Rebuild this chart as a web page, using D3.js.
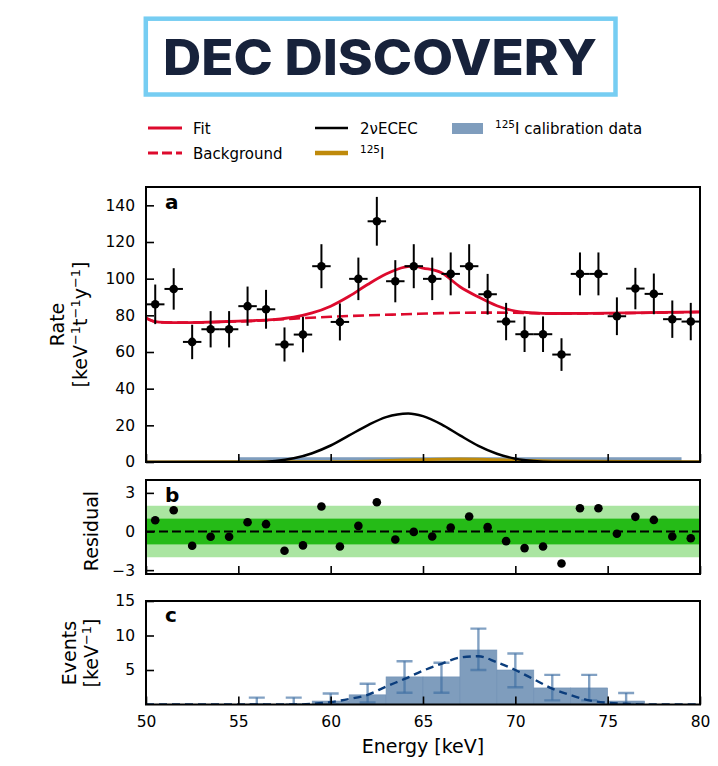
<!DOCTYPE html>
<html>
<head>
<meta charset="utf-8">
<script src="https://cdn.jsdelivr.net/npm/d3@7"></script>
<style>
body{margin:0;background:#fff}
svg{display:block}
text{font-family:"DejaVu Sans",sans-serif}
</style>
</head>
<body>
<svg id="chart" width="718" height="766"></svg>
<script>
// panel a: measured rate per 1 keV bin
var binCenters = [50.5,51.5,52.5,53.5,54.5,55.5,56.5,57.5,58.5,59.5,60.5,61.5,62.5,63.5,64.5,65.5,66.5,67.5,68.5,69.5,70.5,71.5,72.5,73.5,74.5,75.5,76.5,77.5,78.5,79.5];
var rate = [86.0,94.4,65.5,72.4,72.4,85.0,83.3,64.1,69.5,106.8,76.4,99.9,131.3,98.6,106.8,99.9,102.6,106.8,91.5,76.6,69.7,69.7,58.6,102.6,102.6,79.5,94.6,91.7,77.9,76.6];
var rateErr = [10.8,11.3,9.4,9.9,9.9,10.7,10.6,9.3,9.7,12.0,10.1,11.6,13.3,11.5,12.0,11.6,11.7,12.0,11.1,10.2,9.7,9.7,8.9,11.7,11.7,10.3,11.3,11.1,10.2,10.2];

// panel a: model curves
var fitE = [50,50.5,51,52,53,54,55,56,57,58,59,60,61,62,63,64,64.5,65,66,67,68,69,70,71,72,74,76,78,80];
var fitV = [78.6,76.6,76.2,76.0,76.2,76.5,76.8,77.2,77.8,79.0,81.3,85.0,90.4,96.8,102.5,106.3,106.8,105.8,103.2,95.6,90.0,85.2,82.3,81.3,81.0,81.1,81.3,81.6,81.9];
var bgE = [50,50.5,51,52,54,56,58,60,62,64,66,68,70,72,74,76,78,80];
var bgV = [78.6,76.5,76.1,76.0,76.4,77.0,78.2,79.2,80.0,80.6,81.2,81.5,81.4,81.0,81.0,81.2,81.5,81.8];
var ececE = [50,56,57,58,59,60,61,62,63,64.2,65,66,67,68,69,70,71,72,80];
var ececV = [0,0,0.5,2.0,4.8,9.0,14.5,20.0,24.5,26.5,25.0,20.5,14.5,8.8,4.5,1.8,0.5,0,0];
var iodE = [50,60,62,64,66,67,68,70,72,74,76,80];
var iodV = [0,0.1,0.4,1.0,1.5,1.6,1.5,0.9,0.5,0.3,0.2,0.1];
var calibBand = [55,79];
var calibBandHeight = 2.6;

// panel b: residuals
var residual = [0.88,1.65,-1.11,-0.41,-0.41,0.72,0.57,-1.50,-1.08,1.94,-1.16,0.44,2.27,-0.62,-0.03,-0.39,0.31,1.16,0.34,-0.75,-1.29,-1.16,-2.48,1.81,1.81,-0.18,1.14,0.90,-0.39,-0.52];

// panel c: 125I calibration histogram (2 keV bins)
var histLo = [55,57,59,61,63,65,67,69,71,73,75];
var histVal = [0,0,0.5,1.4,4.0,4.0,7.9,5.0,2.4,2.4,0.5];
var histErrLo = [0,0,0,0.3,1.7,1.7,5.0,2.5,0.6,0.6,0];
var histErrHi = [1.0,1.0,1.6,3.0,6.26,6.06,11.0,7.4,4.3,4.3,1.67];
var calibFitE = [50,58,59,60,61,62,63,64,65,66,67,68,69,70,71,72,73,74,75,76,77,80];
var calibFitV = [0,0,0.1,0.35,0.8,1.4,2.6,3.7,4.9,5.9,6.8,7.0,6.1,5.0,3.65,2.3,1.35,0.6,0.26,0.1,0,0];

var xTicks = [50,55,60,65,70,75,80];
var rateTicks = [0,20,40,60,80,100,120,140];
var residTicks = [-3,0,3];
var eventTicks = [5,10,15];

var red = '#dd0a2d', gold = '#bf8a0b', calBlue = '#7f9dbd', navy = '#0b3d7c';

var svg = d3.select('#chart');
var x = d3.scaleLinear().domain([50,80]).range([146,700]);
var ya = d3.scaleLinear().domain([0,150]).range([462,187]);
var yb = d3.scaleLinear().domain([-3.3,4]).range([574,480]);
var yc = d3.scaleLinear().domain([0,15]).range([704.5,601]);

function clip(id, y0, y1){
    svg.append('clipPath').attr('id', id).append('rect')
        .attr('x', 146).attr('y', y0).attr('width', 554).attr('height', y1-y0);
}
clip('ca', 187, 462); clip('cb', 480, 574); clip('cc', 601, 704.5);

// logo
svg.append('rect').attr('x',145.8).attr('y',18.7).attr('width',469.7).attr('height',75.8)
    .attr('fill','#fff').attr('stroke','#76cdf2').attr('stroke-width',4.5);
svg.append('text').attr('x',163).attr('y',75).style('font-family','Inter').attr('font-weight',800)
    .attr('font-size',49).attr('textLength',434).attr('lengthAdjust','spacingAndGlyphs')
    .attr('fill','#17223b').text('DEC DISCOVERY');

// legend
var lg = svg.append('g').attr('font-size',15);
lg.append('line').attr('x1',148).attr('x2',182).attr('y1',128).attr('y2',128).attr('stroke',red).attr('stroke-width',2.8);
lg.append('text').attr('x',193).attr('y',134).text('Fit');
lg.append('line').attr('x1',148).attr('x2',182).attr('y1',153).attr('y2',153).attr('stroke',red).attr('stroke-width',2.8).attr('stroke-dasharray','10,4');
lg.append('text').attr('x',193).attr('y',159).text('Background');
lg.append('line').attr('x1',315).attr('x2',348).attr('y1',128).attr('y2',128).attr('stroke','#000').attr('stroke-width',2.6);
lg.append('text').attr('x',360).attr('y',134).text('2\u03bdECEC');
lg.append('line').attr('x1',315).attr('x2',348).attr('y1',153).attr('y2',153).attr('stroke',gold).attr('stroke-width',4.5);
var t1 = lg.append('text').attr('x',360).attr('y',159);
t1.append('tspan').attr('font-size',10.5).attr('dy',-6).text('125');
t1.append('tspan').attr('dy',6).text('I');
lg.append('rect').attr('x',452).attr('y',123).attr('width',31).attr('height',11).attr('fill',calBlue);
var t2 = lg.append('text').attr('x',495).attr('y',134);
t2.append('tspan').attr('font-size',10.5).attr('dy',-6).text('125');
t2.append('tspan').attr('dy',6).text('I calibration data');

// ---------- panel a ----------
var pa = svg.append('g');
var pac = pa.append('g').attr('clip-path','url(#ca)');
pac.append('rect').attr('x',x(calibBand[0])).attr('width',x(calibBand[1])-x(calibBand[0]))
    .attr('y',ya(calibBandHeight)).attr('height',ya(0)-ya(calibBandHeight)).attr('fill',calBlue);
function curve(xs, ys, yscale){
    return d3.line().curve(d3.curveMonotoneX)
        .x(function(d){return x(d);}).y(function(d,i){return yscale(ys[i]);})(xs);
}
pac.append('path').attr('d',curve(iodE,iodV,ya)).attr('fill','none').attr('stroke',gold).attr('stroke-width',3.2);
pac.append('path').attr('d',curve(ececE,ececV,ya)).attr('fill','none').attr('stroke','#000').attr('stroke-width',2.5);
pac.append('path').attr('d',curve(bgE,bgV,ya)).attr('fill','none').attr('stroke',red).attr('stroke-width',2.6).attr('stroke-dasharray','11,5');
pac.append('path').attr('d',curve(fitE,fitV,ya)).attr('fill','none').attr('stroke',red).attr('stroke-width',2.8);

var pts = pa.append('g').selectAll('g').data(binCenters).enter().append('g');
pts.append('line').attr('x1',function(d){return x(d);}).attr('x2',function(d){return x(d);})
    .attr('y1',function(d,i){return ya(rate[i]-rateErr[i]);}).attr('y2',function(d,i){return ya(rate[i]+rateErr[i]);})
    .attr('stroke','#000').attr('stroke-width',2);
pts.append('line').attr('x1',function(d){return x(d-0.5);}).attr('x2',function(d){return x(d+0.5);})
    .attr('y1',function(d,i){return ya(rate[i]);}).attr('y2',function(d,i){return ya(rate[i]);})
    .attr('stroke','#000').attr('stroke-width',2);
pts.append('circle').attr('cx',function(d){return x(d);}).attr('cy',function(d,i){return ya(rate[i]);}).attr('r',4.3).attr('fill','#000');

// ---------- panel b ----------
var pb = svg.append('g');
var pbc = pb.append('g').attr('clip-path','url(#cb)');
pbc.append('rect').attr('x',146).attr('width',554).attr('y',yb(2)).attr('height',yb(-2)-yb(2)).attr('fill','#aae5a1');
pbc.append('rect').attr('x',146).attr('width',554).attr('y',yb(1)).attr('height',yb(-1)-yb(1)).attr('fill','#25bb17');
pbc.append('line').attr('x1',146).attr('x2',700).attr('y1',yb(0)).attr('y2',yb(0))
    .attr('stroke','#000').attr('stroke-width',2).attr('stroke-dasharray','9,4');
pb.append('g').selectAll('circle').data(binCenters).enter().append('circle')
    .attr('cx',function(d){return x(d);}).attr('cy',function(d,i){return yb(residual[i]);}).attr('r',4.3).attr('fill','#000');

// ---------- panel c ----------
var pc = svg.append('g');
var pcc = pc.append('g').attr('clip-path','url(#cc)');
pcc.selectAll('rect.bar').data(histLo).enter().append('rect').attr('class','bar')
    .attr('x',function(d){return x(d);}).attr('width',function(d){return x(d+2)-x(d);})
    .attr('y',function(d,i){return yc(histVal[i]);}).attr('height',function(d,i){return yc(0)-yc(histVal[i]);})
    .attr('fill',calBlue).attr('stroke','#6f8fb4').attr('stroke-width',0.6);
var eb = pcc.append('g').attr('stroke','#3f6fa3').attr('stroke-opacity',0.65).attr('stroke-width',2.4)
    .selectAll('g').data(histLo).enter().append('g');
eb.append('line').attr('x1',function(d){return x(d+1);}).attr('x2',function(d){return x(d+1);})
    .attr('y1',function(d,i){return yc(histErrLo[i]);}).attr('y2',function(d,i){return yc(histErrHi[i]);});
eb.append('line').attr('x1',function(d){return x(d+1)-8;}).attr('x2',function(d){return x(d+1)+8;})
    .attr('y1',function(d,i){return yc(histErrHi[i]);}).attr('y2',function(d,i){return yc(histErrHi[i]);});
eb.append('line').attr('x1',function(d){return x(d+1)-8;}).attr('x2',function(d){return x(d+1)+8;})
    .attr('y1',function(d,i){return yc(histErrLo[i]);}).attr('y2',function(d,i){return yc(histErrLo[i]);});
pcc.append('path').attr('d',curve(calibFitE,calibFitV,yc)).attr('fill','none')
    .attr('stroke',navy).attr('stroke-width',2.4).attr('stroke-dasharray','8,5');

// ---------- axes ----------
function styleAxis(g){
    g.select('.domain').remove();
    g.selectAll('.tick line').attr('stroke','#000').attr('stroke-width',1.6);
    g.selectAll('.tick text').attr('fill','#000').style('font-family','"DejaVu Sans",sans-serif').attr('font-size',15.5);
}
[[462,false],[574,false],[704.5,true]].forEach(function(p){
    var ax = d3.axisBottom(x).tickValues(xTicks).tickSize(-8).tickPadding(11.5);
    if (!p[1]) ax.tickFormat('');
    svg.append('g').attr('transform','translate(0,'+p[0]+')').call(ax).call(styleAxis);
});
svg.append('g').attr('transform','translate(146,0)')
    .call(d3.axisLeft(ya).tickValues(rateTicks).tickSize(-8).tickPadding(11)).call(styleAxis);
svg.append('g').attr('transform','translate(146,0)')
    .call(d3.axisLeft(yb).tickValues(residTicks).tickSize(-8).tickPadding(11)).call(styleAxis);
svg.append('g').attr('transform','translate(146,0)')
    .call(d3.axisLeft(yc).tickValues(eventTicks).tickSize(-8).tickPadding(11)).call(styleAxis);

// frames
[[187,462],[480,574],[601,704.5]].forEach(function(f){
    svg.append('rect').attr('x',146).attr('y',f[0]).attr('width',554).attr('height',f[1]-f[0])
        .attr('fill','none').attr('stroke','#000').attr('stroke-width',2);
});

// panel letters
[['a',209],['b',501.5],['c',622]].forEach(function(l){
    svg.append('text').attr('x',165).attr('y',l[1]).attr('font-size',20).attr('font-weight','bold').text(l[0]);
});

// axis labels
function vlabel(xb, yc0, parts){
    var t = svg.append('text').attr('transform','translate('+xb+','+yc0+') rotate(-90)')
        .attr('text-anchor','middle').attr('font-size',19);
    parts.forEach(function(p){
        var s = t.append('tspan').text(p[0]);
        if (p[1]) s.attr('font-size',13).attr('baseline-shift','super');
    });
}
vlabel(64, 324.5, [['Rate']]);
vlabel(87, 324.5, [['[keV'],['\u22121',1],['t'],['\u22121',1],['y'],['\u22121',1],[']']]);
vlabel(98, 531, [['Residual']]);
vlabel(75.5, 653, [['Events']]);
vlabel(98, 653, [['[keV'],['\u22121',1],[']']]);
svg.append('text').attr('x',423).attr('y',753).attr('text-anchor','middle').attr('font-size',19).text('Energy [keV]');
</script>
</body>
</html>
